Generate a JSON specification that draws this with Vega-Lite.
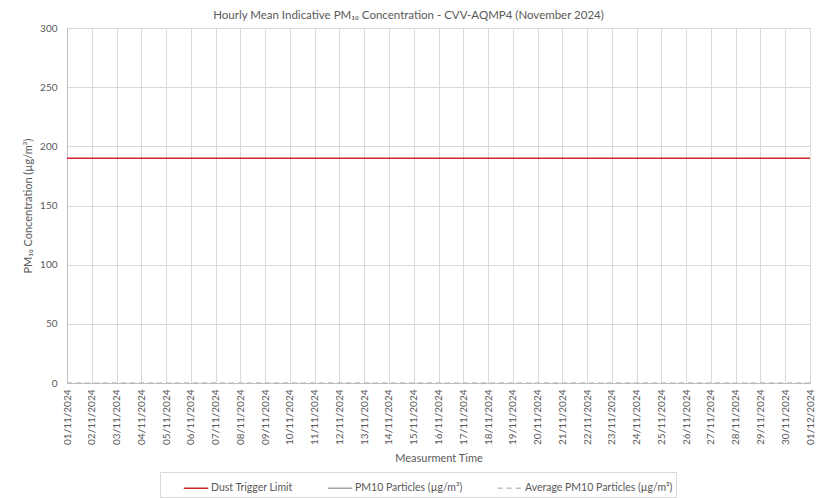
{
  "$schema": "https://vega.github.io/schema/vega-lite/v6.json",
  "autosize": "none",
  "width": 743,
  "height": 355,
  "padding": {"left": 67, "top": 28, "right": 9, "bottom": 115},
  "background": "white",
  "title": {
    "text": "Hourly Mean Indicative PM₁₀ Concentration - CVV-AQMP4 (November 2024)",
    "fontSize": 11.5,
    "fontWeight": "normal",
    "color": "#595959",
    "font": "Lato",
    "offset": 2,
    "dx": -30,
    "anchor": "middle"
  },
  "config": {
    "font": "Lato",
    "view": {"stroke": "#bfbfbf", "strokeWidth": 1},
    "axis": {
      "labelColor": "#595959",
      "titleColor": "#595959",
      "labelFont": "Lato",
      "titleFont": "Lato",
      "labelFontSize": 10,
      "titleFontSize": 11,
      "titleFontWeight": "normal",
      "gridColor": "#d9d9d9",
      "domainColor": "#bfbfbf",
      "ticks": false
    }
  },
  "data": {
    "values": [
      {"date": "2024-11-01", "series": "Dust Trigger Limit", "value": 190},
      {"date": "2024-12-01", "series": "Dust Trigger Limit", "value": 190},
      {"date": "2024-11-01", "series": "Average PM10 Particles (µg/m³)", "value": 0},
      {"date": "2024-12-01", "series": "Average PM10 Particles (µg/m³)", "value": 0}
    ]
  },
  "mark": {"type": "line", "strokeWidth": 1.5},
  "encoding": {
    "x": {
      "field": "date",
      "type": "temporal",
      "scale": {"type": "utc", "domain": ["2024-11-01", "2024-12-01"], "nice": false},
      "axis": {
        "title": "Measurment Time",
        "format": "%d/%m/%Y",
        "labelAngle": -90,
        "labelPadding": 6,
        "tickCount": {"interval": "day", "step": 1},
        "labelOverlap": false,
        "titlePadding": 8,
        "labelFlush": false
      }
    },
    "y": {
      "field": "value",
      "type": "quantitative",
      "scale": {"domain": [0, 300], "nice": false},
      "axis": {
        "title": "PM₁₀ Concentration (µg/m³)",
        "values": [0, 50, 100, 150, 200, 250, 300],
        "labelPadding": 10,
        "titlePadding": 6
      }
    },
    "color": {
      "field": "series",
      "type": "nominal",
      "scale": {
        "domain": ["Dust Trigger Limit", "PM10 Particles (µg/m³)", "Average PM10 Particles (µg/m³)"],
        "range": ["#d62728", "#a6a6a6", "#bfbfbf"]
      },
      "legend": {
        "title": null,
        "orient": "none",
        "legendX": 93,
        "legendY": 444,
        "direction": "horizontal",
        "symbolType": "stroke",
        "symbolSize": 600,
        "symbolStrokeWidth": 1.5,
        "symbolOffset": 20,
        "labelFontSize": 10.5,
        "labelColor": "#595959",
        "labelOffset": 2,
        "strokeColor": "#d9d9d9",
        "padding": 3,
        "columnPadding": 14,
        "labelLimit": 300
      }
    },
    "strokeDash": {
      "field": "series",
      "type": "nominal",
      "scale": {
        "domain": ["Dust Trigger Limit", "PM10 Particles (µg/m³)", "Average PM10 Particles (µg/m³)"],
        "range": [[1, 0], [1, 0], [5, 4]]
      },
      "legend": null
    }
  }
}
